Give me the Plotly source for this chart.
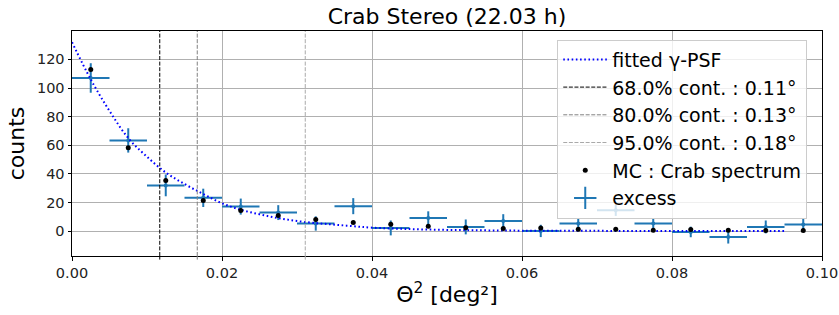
import plotly.graph_objects as go

# ---- data ----
bin_centers = [0.0025, 0.0075, 0.0125, 0.0175, 0.0225, 0.0275, 0.0325, 0.0375, 0.0425, 0.0475,
               0.0525, 0.0575, 0.0625, 0.0675, 0.0725, 0.0775, 0.0825, 0.0875, 0.0925, 0.0975]
bin_half_width = [0.0025] * 20
excess = [107, 63.4, 32, 23.3, 17.2, 13, 5.4, 17.5, 2.3, 9.3,
          3.0, 7.2, 0.2, 5.4, 14.7, 5.4, -0.5, -4.0, 3.0, 4.7]
excess_err = [10.3, 8.5, 7.6, 6.4, 5.6, 5.2, 5.0, 5.6, 5.2, 4.6,
              5.2, 4.7, 4.3, 3.5, 4.0, 3.5, 3.7, 4.6, 4.5, 4.0]
mc_crab = [113, 58.2, 35.4, 21.4, 14.4, 11, 8.2, 6.1, 4.9, 3.5,
           2.5, 1.9, 2.3, 1.4, 1.4, 0.7, 1.2, 0.7, 0.5, 0.5]

psf_x = [0.0, 0.0025, 0.005, 0.0075, 0.01, 0.0125, 0.015, 0.0175, 0.02, 0.0225, 0.025,
         0.0275, 0.03, 0.0325, 0.035, 0.0375, 0.04, 0.045, 0.05, 0.055, 0.06, 0.07, 0.08, 0.095]
psf_y = [132, 106, 84, 65, 52, 41, 33, 26, 19.5, 15, 11.8,
         9.2, 7.1, 5.7, 4.6, 3.5, 2.5, 1.5, 0.9, 0.6, 0.4, 0.25, 0.2, 0.15]

cont_levels = [0.0117, 0.0167, 0.0311]
cont_labels = ["68.0% cont. : 0.11°", "80.0% cont. : 0.13°", "95.0% cont. : 0.18°"]
cont_colors = ["#000000", "#808080", "#a9a9a9"]

x_range = [0.0, 0.1]
y_range = [-17.3, 139.8]
x_ticks = [0.0, 0.02, 0.04, 0.06, 0.08, 0.1]
x_ticklabels = ["0.00", "0.02", "0.04", "0.06", "0.08", "0.10"]
y_ticks = [0, 20, 40, 60, 80, 100, 120]

C0 = "#1f77b4"
FONT = "DejaVu Sans"

fig = go.Figure()

# excess with error bars (legend entry drawn separately)
fig.add_trace(go.Scatter(
    x=bin_centers, y=excess, mode="markers",
    marker=dict(color=C0, size=4),
    error_x=dict(type="data", array=bin_half_width, symmetric=True, color=C0, thickness=2, width=0),
    error_y=dict(type="data", array=excess_err, symmetric=True, color=C0, thickness=2, width=0),
    showlegend=False,
))

# fitted PSF
fig.add_trace(go.Scatter(
    x=psf_x, y=psf_y, mode="lines",
    line=dict(color="#0000ff", width=2, dash="1.6px,2.6px", shape="spline"),
    name="fitted γ-PSF", legendgroup="g1",
))

# containment legend entries
for i, (lab, col) in enumerate(zip(cont_labels, cont_colors)):
    fig.add_trace(go.Scatter(
        x=[None], y=[None], mode="lines", line=dict(color=col, width=1, dash="4px,1.6px"),
        name=lab, legendgroup=f"c{i}",
    ))

# MC points
fig.add_trace(go.Scatter(
    x=bin_centers, y=mc_crab, mode="markers", marker=dict(color="black", size=5),
    name="MC : Crab spectrum", legendgroup="mc",
))

# excess legend entry
fig.add_trace(go.Scatter(
    x=[None], y=[None], mode="markers",
    marker=dict(symbol="cross-thin", size=18, line=dict(color=C0, width=2), color=C0),
    name="excess", legendgroup="ex",
))

# containment vertical lines
for v, col in zip(cont_levels, cont_colors):
    fig.add_shape(type="line", xref="x", yref="y domain", x0=v, x1=v, y0=0, y1=1,
                  line=dict(color=col, width=1, dash="4px,1.6px"), layer="above")
    px = (v - x_range[0]) / (x_range[1] - x_range[0])
    fig.add_shape(type="line", xref="paper", yref="paper", x0=px, x1=px, y0=0, y1=-0.016,
                  line=dict(color=col, width=1))

fig.update_layout(
    width=839, height=315,
    margin=dict(l=72, r=17, t=31, b=59),
    paper_bgcolor="white", plot_bgcolor="white",
    font=dict(family=FONT, color="black"),
    title=dict(text="Crab Stereo (22.03 h)", x=(72 + 750 / 2) / 839, xanchor="center",
               y=1 - 16 / 315, yanchor="middle", font=dict(size=22, family=FONT)),
    legend=dict(
        x=0.647, y=0.962, xanchor="left", yanchor="top",
        bgcolor="rgba(255,255,255,0.8)", bordercolor="#cccccc", borderwidth=1,
        font=dict(size=19, family=FONT), tracegroupgap=0, itemwidth=44,
    ),
    xaxis=dict(
        range=x_range, tickvals=x_ticks, ticktext=x_ticklabels, automargin=False,
        showgrid=True, gridcolor="#b0b0b0", gridwidth=1,
        showline=True, linecolor="black", linewidth=1, mirror=True,
        ticks="outside", ticklen=3.5, tickcolor="black", zeroline=False,
        tickfont=dict(size=14.5, family=FONT, color="#222"),
        title=dict(text="Θ<sup>2</sup> [deg²]", font=dict(size=22, family=FONT), standoff=6),
    ),
    yaxis=dict(
        range=y_range, tickvals=y_ticks, automargin=False,
        showgrid=True, gridcolor="#b0b0b0", gridwidth=1,
        showline=True, linecolor="black", linewidth=1, mirror=True,
        ticks="outside", ticklen=3.5, tickcolor="black", zeroline=False,
        tickfont=dict(size=14.5, family=FONT, color="#222"),
        title=dict(text="counts", font=dict(size=22, family=FONT), standoff=6),
    ),
)

fig.write_html("out.html", config={"displayModeBar": False},
               post_script="document.body.style.margin='0';")
